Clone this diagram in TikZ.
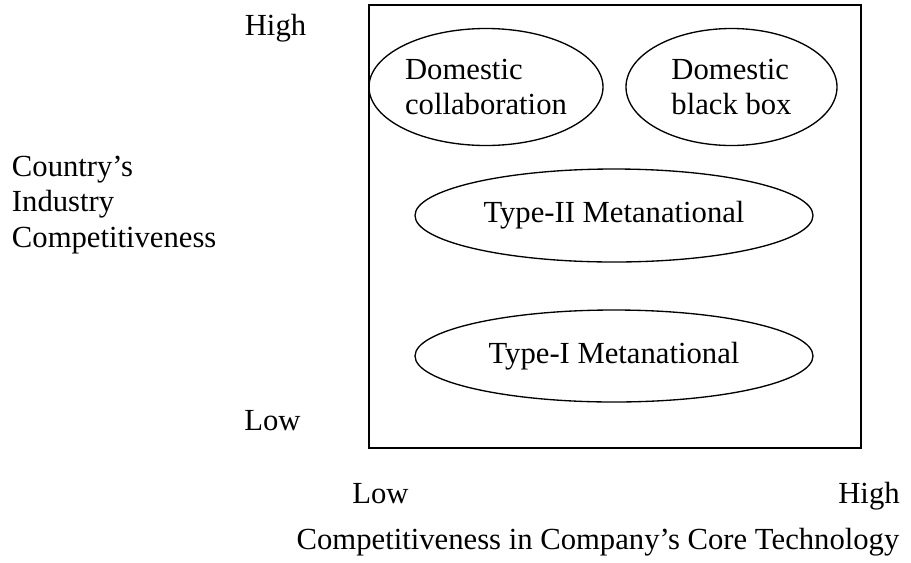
\documentclass[tikz,border=0pt]{standalone}
\usepackage{fontspec}
\setmainfont{Liberation Serif}
\usetikzlibrary{shapes.geometric}

\tikzset{
  oval/.style={draw, ellipse, inner sep=0pt, align=left, line width=1pt},
  lbl/.style={inner sep=0pt, align=left}
}

\begin{document}
\begin{tikzpicture}[x=0.75pt,y=0.75pt,yscale=-1,xscale=1,
  every node/.append style={font=\fontsize{23}{26.5}\selectfont}]
\useasboundingbox (0,0) rectangle (911,562);

%Shape: Rectangle
\draw [line width=1.3pt] (369,5) -- (861,5) -- (861,448) -- (369,448) -- cycle ;

%Shape: Ellipse
\node [oval, minimum width=175.5pt, minimum height=87.75pt] (domcollab) at (486,87) {Domestic\\collaboration};
%Shape: Ellipse
\node [oval, minimum width=158.25pt, minimum height=87.75pt] (domblack) at (731.5,87) {Domestic\\black box};
%Shape: Ellipse
\node [oval, minimum width=298.5pt, minimum height=69.75pt] (typetwo) at (614,215.5) {Type-II Metanational};
%Shape: Ellipse
\node [oval, minimum width=298.5pt, minimum height=69pt] (typeone) at (614,356) {Type-I Metanational};

% Text Node
\node [lbl, anchor=base] (yhigh) at (275.5,35) {High};
% Text Node
\node [lbl, anchor=base] (ylow) at (272.5,430) {Low};
% Text Node
\node [lbl, anchor=west] (ytitle) at (11.7,205) {Country’s\\Industry\\Competitiveness};
% Text Node
\node [lbl, anchor=base] (xlow) at (380.5,503) {Low};
% Text Node
\node [lbl, anchor=base] (xhigh) at (869,503) {High};
% Text Node
\node [lbl, anchor=base] (xtitle) at (598,549) {Competitiveness in Company’s Core Technology};

\end{tikzpicture}
\end{document}
